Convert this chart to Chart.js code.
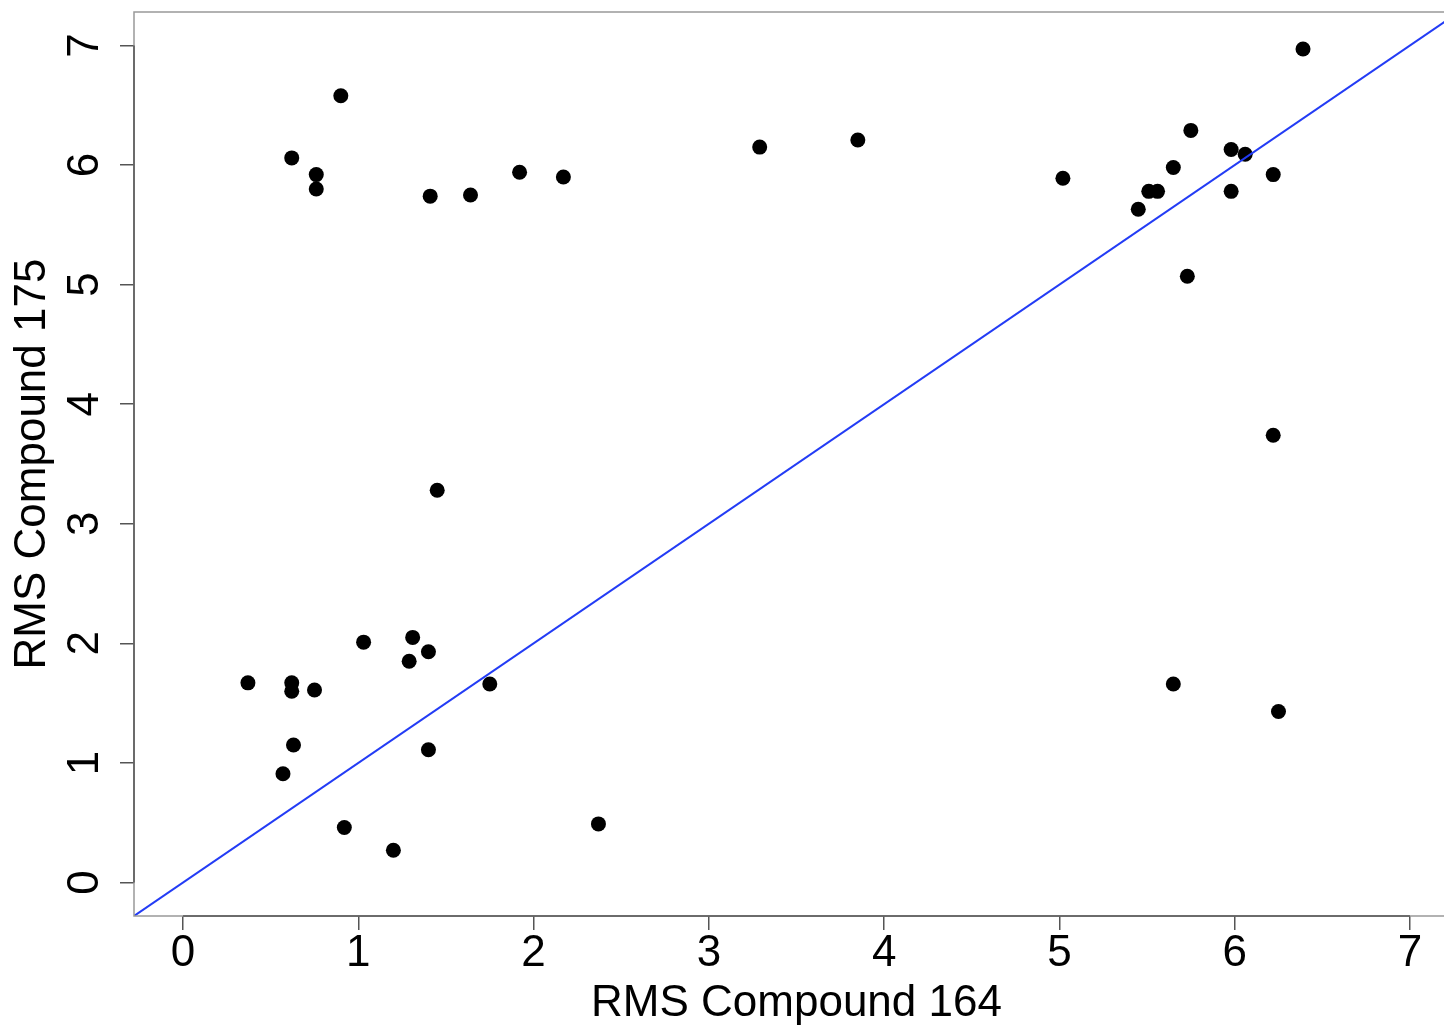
<!DOCTYPE html>
<html>
<head>
<meta charset="utf-8">
<script src="https://cdn.jsdelivr.net/npm/chart.js@4/dist/chart.umd.min.js"></script>
<style>
  html, body { margin: 0; padding: 0; background: #fff; overflow: hidden; }
  /* the plot box runs a little past the right edge of the window, as in the original */
  #wrap { width: 1480px; height: 1028px; }
</style>
</head>
<body>
<div id="wrap"><canvas id="chart"></canvas></div>
<script>
// RMS values
const compound164 = [0.37, 0.62, 0.62, 0.63, 0.57, 0.75, 0.90, 0.62, 0.76, 0.76,
  0.92, 1.03, 1.20, 1.31, 1.29, 1.40, 1.40, 1.41, 1.45, 1.64,
  1.75, 1.92, 2.17, 2.37, 3.29, 3.85, 5.02, 5.45, 5.51, 5.56,
  5.65, 5.75, 5.73, 5.65, 5.98, 6.06, 5.98, 6.22, 6.22, 6.25, 6.39];
const compound175 = [1.67, 1.67, 1.60, 1.15, 0.91, 1.61, 6.58, 6.06, 5.92, 5.80,
  0.46, 2.01, 0.27, 2.05, 1.85, 1.93, 1.11, 5.74, 3.28, 5.75,
  1.66, 5.94, 5.90, 0.49, 6.15, 6.21, 5.89, 5.63, 5.78, 5.78,
  5.98, 6.29, 5.07, 1.66, 6.13, 6.09, 5.78, 5.92, 3.74, 1.43, 6.97];
const tickValues = [0, 1, 2, 3, 4, 5, 6, 7];
const axisLimits = [0, 7];          // xlim = ylim = c(0, 7), R adds 4% each side
const lineIntercept = 0;
const lineSlope = 1;

const pad = (axisLimits[1] - axisLimits[0]) * 0.04;
const axMin = axisLimits[0] - pad;
const axMax = axisLimits[1] + pad;

const FONT = '"Liberation Sans", Arial, Helvetica, sans-serif';

const points = compound164.map((x, i) => ({ x: x, y: compound175[i] }));

// box round the plot and R-style axis lines from first to last tick
const frame = {
  id: 'frame',
  afterDraw(chart) {
    const ctx = chart.ctx, a = chart.chartArea;
    const xs = chart.scales.x, ys = chart.scales.y;
    ctx.save();
    ctx.strokeStyle = '#999';
    ctx.lineWidth = 1.5;
    ctx.strokeRect(a.left, a.top, a.right - a.left, a.bottom - a.top);
    ctx.strokeStyle = '#555';
    ctx.beginPath();
    ctx.moveTo(xs.getPixelForValue(tickValues[0]), a.bottom);
    ctx.lineTo(xs.getPixelForValue(tickValues[tickValues.length - 1]), a.bottom);
    ctx.moveTo(a.left, ys.getPixelForValue(tickValues[0]));
    ctx.lineTo(a.left, ys.getPixelForValue(tickValues[tickValues.length - 1]));
    ctx.stroke();

    // y tick labels turned sideways like R's default las = 0
    ctx.font = '44px ' + FONT;
    ctx.fillStyle = '#000';
    ctx.textAlign = 'center';
    ctx.textBaseline = 'middle';
    ys.ticks.forEach(t => {
      ctx.save();
      ctx.translate(ys.right - 48, ys.getPixelForValue(t.value));
      ctx.rotate(-Math.PI / 2);
      ctx.fillText(String(t.value), 0, 0);
      ctx.restore();
    });
    ctx.restore();
  }
};

// abline(0, 1)
const abline = {
  id: 'abline',
  afterDatasetsDraw(chart) {
    const ctx = chart.ctx, a = chart.chartArea;
    const xs = chart.scales.x, ys = chart.scales.y;
    const x0 = xs.min, x1 = xs.max;
    ctx.save();
    ctx.beginPath();
    ctx.rect(a.left, a.top, a.right - a.left, a.bottom - a.top);
    ctx.clip();
    ctx.strokeStyle = 'rgb(35,60,245)';
    ctx.lineWidth = 2;
    ctx.beginPath();
    ctx.moveTo(xs.getPixelForValue(x0), ys.getPixelForValue(lineIntercept + lineSlope * x0));
    ctx.lineTo(xs.getPixelForValue(x1), ys.getPixelForValue(lineIntercept + lineSlope * x1));
    ctx.stroke();
    ctx.restore();
  }
};

new Chart(document.getElementById('chart'), {
  type: 'scatter',
  data: {
    datasets: [{
      data: points,
      backgroundColor: '#000',
      borderWidth: 0,
      pointRadius: 7.5,
      pointHoverRadius: 7.5
    }]
  },
  options: {
    responsive: true,
    maintainAspectRatio: false,
    animation: false,
    layout: { padding: { top: 12, right: 21, left: 0, bottom: 0 } },
    plugins: { legend: { display: false }, tooltip: { enabled: false } },
    scales: {
      x: {
        type: 'linear',
        min: axMin,
        max: axMax,
        afterFit: s => { s.height = 112; },
        afterBuildTicks: s => { s.ticks = tickValues.map(v => ({ value: v })); },
        grid: { drawOnChartArea: false, drawTicks: true, tickLength: 14, color: '#555', lineWidth: 1.5 },
        border: { display: false },
        ticks: {
          color: '#000',
          padding: 2,
          maxRotation: 0,
          font: { family: FONT, size: 44, lineHeight: 1 }
        },
        title: {
          display: true,
          text: 'RMS Compound 164',
          color: '#000',
          font: { family: FONT, size: 44, lineHeight: 1 },
          padding: { top: 0, bottom: 2 }
        }
      },
      y: {
        type: 'linear',
        min: axMin,
        max: axMax,
        afterFit: s => { s.width = 134; },
        afterBuildTicks: s => { s.ticks = tickValues.map(v => ({ value: v })); },
        grid: { drawOnChartArea: false, drawTicks: true, tickLength: 14, color: '#555', lineWidth: 1.5 },
        border: { display: false },
        ticks: { display: false },
        title: {
          display: true,
          text: 'RMS Compound 175',
          color: '#000',
          font: { family: FONT, size: 44, lineHeight: 1 },
          padding: { top: 11, bottom: 0 }
        }
      }
    }
  },
  plugins: [frame, abline]
});
</script>
</body>
</html>
